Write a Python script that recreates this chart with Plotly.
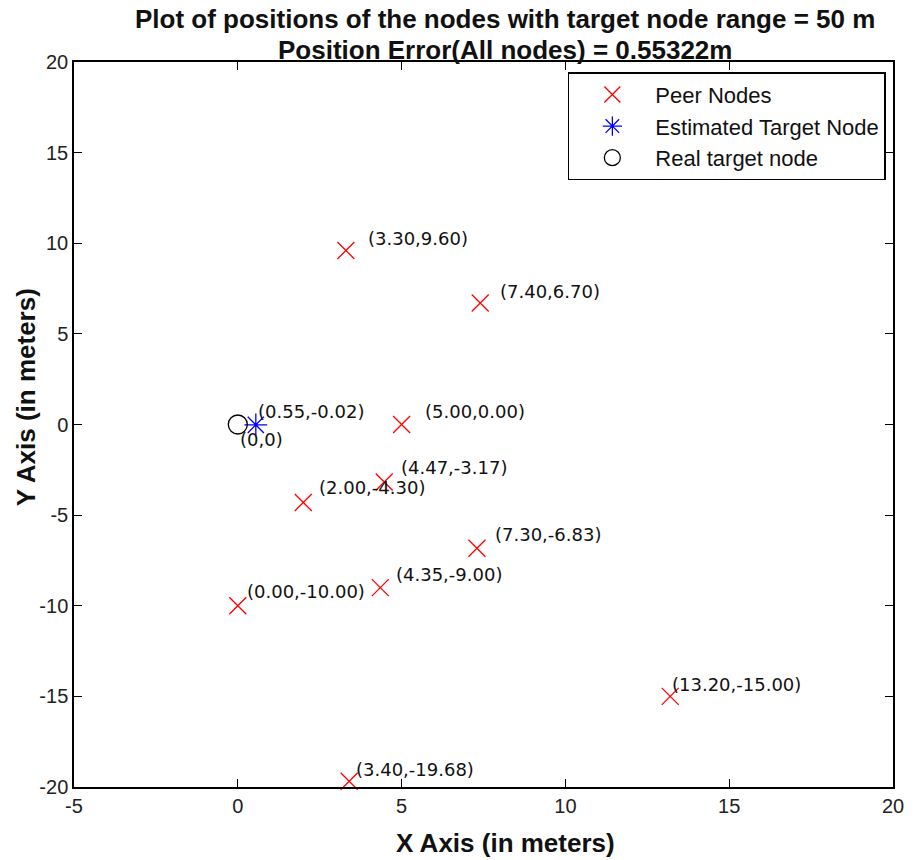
import plotly.graph_objects as go

# Peer (anchor) node coordinates in meters
peer_x = [3.30, 7.40, 5.00, 4.47, 2.00, 7.30, 4.35, 0.00, 13.20, 3.40]
peer_y = [9.60, 6.70, 0.00, -3.17, -4.30, -6.83, -9.00, -10.00, -15.00, -19.68]

# Estimated and real target node
est_x, est_y = [0.55], [-0.02]
real_x, real_y = [0], [0]

range_m = 50
position_error = 0.55322

x_ticks = [-5, 0, 5, 10, 15, 20]
x_tick_text = ["-5", "0", "5", "10", "15", "20"]
y_ticks = [-20, -15, -10, -5, 0, 5, 10, 15, 20]
y_tick_text = ["-20", "-15", "-10", "-5", "0", "5", "10", "15", "20"]

# Pixel offsets of the coordinate labels relative to each peer marker
peer_label_shift = [(20, 12), (18, 12), (21, 13), (15, 14), (14, 15),
                    (16, 14), (14, 13), (7, 14), (0, 12), (5, 12)]
est_label_shift = (0, 13)
real_label_shift = (0, -15)

FONT = "Liberation Sans, Arial, sans-serif"
LABEL_FONT = dict(family="DejaVu Sans, sans-serif", size=18, color="#111")

fig = go.Figure()

fig.add_trace(go.Scatter(
    x=peer_x, y=peer_y, mode="markers", name="Peer Nodes",
    legendgroup="a",
    marker=dict(symbol="x-thin-open", size=17, color="red",
                line=dict(color="red", width=1.3)),
    cliponaxis=False,
))
fig.add_trace(go.Scatter(
    x=est_x, y=est_y, mode="markers", name="Estimated Target Node",
    legendgroup="b",
    marker=dict(symbol="asterisk-open", size=19, color="blue",
                line=dict(color="blue", width=1.3)),
    cliponaxis=False,
))
fig.add_trace(go.Scatter(
    x=real_x, y=real_y, mode="markers", name="Real target node",
    legendgroup="c",
    marker=dict(symbol="circle-open", size=19, color="black",
                line=dict(color="black", width=1.3)),
    cliponaxis=False,
))

annotations = []
for x, y, (dx, dy) in zip(peer_x, peer_y, peer_label_shift):
    annotations.append(dict(x=x, y=y, text=f"({x:.2f},{y:.2f})",
                            xshift=dx, yshift=dy))
annotations.append(dict(x=est_x[0], y=est_y[0],
                        text=f"({est_x[0]:.2f},{est_y[0]:.2f})",
                        xshift=est_label_shift[0], yshift=est_label_shift[1]))
annotations.append(dict(x=real_x[0], y=real_y[0],
                        text=f"({real_x[0]},{real_y[0]})",
                        xshift=real_label_shift[0], yshift=real_label_shift[1]))
for a in annotations:
    a.update(xref="x", yref="y", showarrow=False, xanchor="left",
             yanchor="middle", font=LABEL_FONT)

title_font = dict(family=FONT, size=26, color="#111")
# Two-line title
annotations.append(dict(
    text=f"<b>Plot of positions of the nodes with target node range = {range_m} m</b>",
    xref="paper", yref="paper", x=0.526, y=1.0593, showarrow=False,
    xanchor="center", yanchor="middle", font=title_font))
annotations.append(dict(
    text=f"<b>Position Error(All nodes) = {position_error}m</b>",
    xref="paper", yref="paper", x=0.526, y=1.016, showarrow=False,
    xanchor="center", yanchor="middle", font=title_font))

# Axis titles
annotations.append(dict(text="<b>X Axis (in meters)</b>", xref="paper", yref="paper",
                        x=0.527, y=-0.077, showarrow=False, xanchor="center",
                        yanchor="middle", font=title_font))
annotations.append(dict(text="<b>Y Axis (in meters)</b>", xref="paper", yref="paper",
                        x=-0.059, y=0.537, showarrow=False, xanchor="center",
                        yanchor="middle", textangle=-90, font=title_font))

axis_common = dict(showgrid=False, zeroline=False, showline=True, linecolor="black",
                   linewidth=1.5, mirror="ticks", ticks="inside", ticklen=8,
                   tickwidth=1.2, tickcolor="black", tickmode="array",
                   tickfont=dict(family=FONT, size=20, color="#222"))

fig.update_layout(
    width=916, height=860,
    margin=dict(l=74, r=15, t=62, b=73),
    paper_bgcolor="white", plot_bgcolor="white",
    xaxis=dict(range=[-5, 20], tickvals=x_ticks, ticktext=x_tick_text, **axis_common),
    yaxis=dict(range=[-20, 20], tickvals=y_ticks, ticktext=y_tick_text, **axis_common),
    legend=dict(x=0.603, y=0.986, xanchor="left", yanchor="top",
                bgcolor="white", bordercolor="black", borderwidth=1.5,
                font=dict(family=FONT, size=22, color="#111"),
                tracegroupgap=0, itemwidth=76,
                traceorder="grouped"),
    annotations=annotations,
    showlegend=True,
)

fig.write_html("out.html")
